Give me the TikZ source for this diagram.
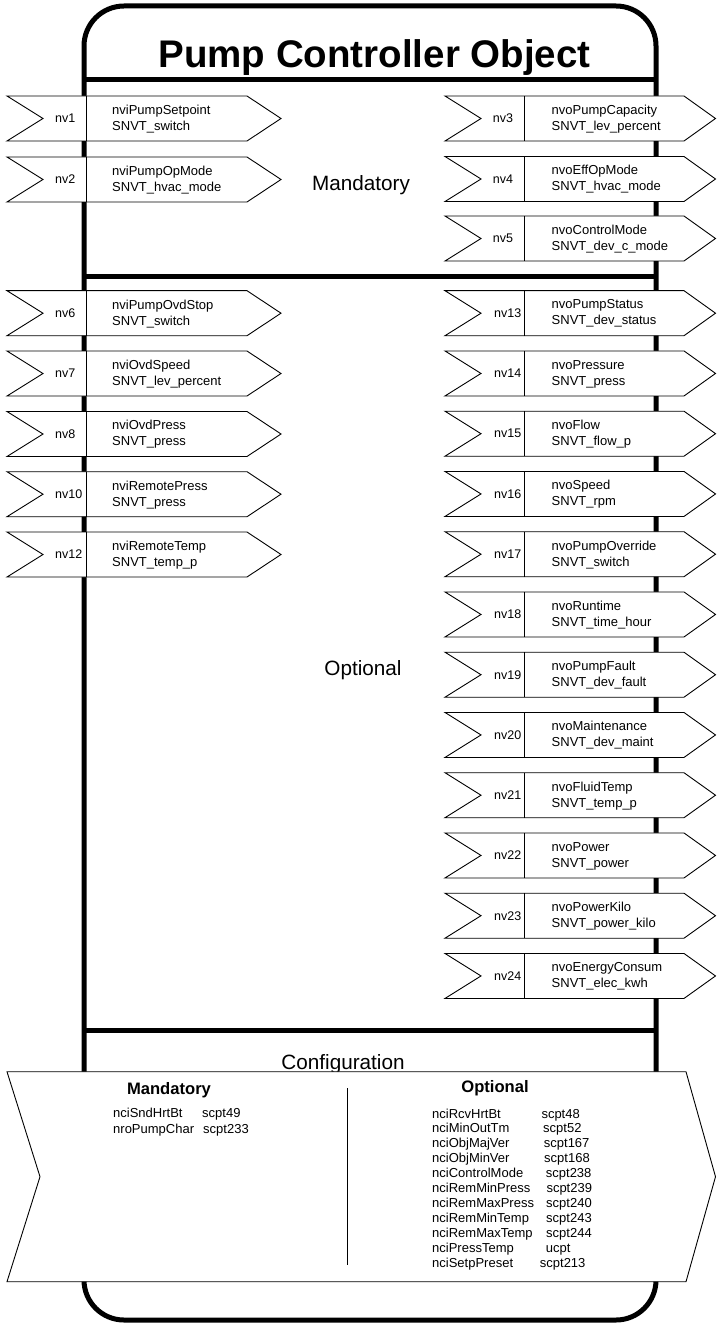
\documentclass[tikz,border=0pt]{standalone}
\usepackage{fontspec}
\setmainfont{Liberation Sans}
\tikzset{
 frame/.style={line width=5pt, draw=black},
 nvshape/.style={draw=black, line width=0.9pt, fill=white, line join=miter},
 divline/.style={draw=black, line width=0.9pt},
 nvtxt/.style={font=\fontsize{13}{16}\selectfont, inner sep=0pt, align=left, anchor=west},
 nvlab/.style={font=\fontsize{12.5}{15}\selectfont, inner sep=0pt},
 seclab/.style={font=\fontsize{20.7}{24}\selectfont, inner sep=0pt, anchor=base},
 cfgtxt/.style={font=\fontsize{13}{15}\selectfont, inner sep=0pt, anchor=base west},
 cfghead/.style={font=\fontsize{16.6}{20}\selectfont\bfseries, inner sep=0pt, anchor=base},
 titletxt/.style={font=\fontsize{38.5}{44}\selectfont\bfseries, inner sep=0pt, anchor=base}
}
\begin{document}
\begin{tikzpicture}[x=1pt,y=-1pt]
\useasboundingbox (0,0) rectangle (716,1329);
% container
\draw[frame, rounded corners=40pt] (84,6) rectangle (656,1320);
\coordinate (l1) at (84,80);   \coordinate (r1) at (656,80);
\coordinate (l2) at (84,277);  \coordinate (r2) at (656,277);
\coordinate (l3) at (84,1030); \coordinate (r3) at (656,1030);
\draw[frame] (l1) -- (r1);
\draw[frame] (l2) -- (r2);
\draw[frame] (l3) -- (r3);
\node[titletxt] (title) at (374.5,68) {Pump Controller Object};
\node[seclab] (mand) at (361,190.4) {Mandatory};
\node[seclab] (opt) at (363,675.4) {Optional};
\node[seclab] (conf) at (343,1069) {Configuration};
% input boxes (left)
\foreach \t/\lab/\nm/\ty/\id in {
 96/nv1/nviPumpSetpoint/SNVT\_switch/a,
 157/nv2/nviPumpOpMode/SNVT\_hvac\_mode/b,
 290.7/nv6/nviPumpOvdStop/SNVT\_switch/c,
 351/nv7/nviOvdSpeed/SNVT\_lev\_percent/d,
 411.5/nv8/nviOvdPress/SNVT\_press/e,
 471.7/nv10/nviRemotePress/SNVT\_press/f,
 532/nv12/nviRemoteTemp/SNVT\_temp\_p/g}
{
 \draw[nvshape] (7,\t) -- (247,\t) -- (281,\t+22.5) -- (247,\t+45) -- (7,\t+45) -- (43,\t+22.5) -- cycle;
 \draw[divline] (86,\t) -- (86,\t+45);
 \node[nvlab, anchor=west] (in-\id) at (55,\t+22.5) {\lab};
 \node[nvtxt] (inname-\id) at (112,\t+23) {\nm\\\ty};
}
% output boxes (right), single-digit
\foreach \t/\lab/\nm/\ty/\id in {
 96/nv3/nvoPumpCapacity/SNVT\_lev\_percent/a,
 156.5/nv4/nvoEffOpMode/SNVT\_hvac\_mode/b,
 216/nv5/nvoControlMode/SNVT\_dev\_c\_mode/c}
{
 \draw[nvshape] (445,\t) -- (684,\t) -- (715.5,\t+22.5) -- (684,\t+45) -- (445,\t+45) -- (481,\t+22.5) -- cycle;
 \draw[divline] (524.5,\t) -- (524.5,\t+45);
 \node[nvlab] (out-\id) at (503,\t+22.5) {\lab};
 \node[nvtxt] (outname-\id) at (551.5,\t+23) {\nm\\\ty};
}
% output boxes (right), optional
\foreach \k/\lab/\nm/\ty/\id in {
 0/nv13/nvoPumpStatus/SNVT\_dev\_status/d,
 1/nv14/nvoPressure/SNVT\_press/e,
 2/nv15/nvoFlow/SNVT\_flow\_p/f,
 3/nv16/nvoSpeed/SNVT\_rpm/g,
 4/nv17/nvoPumpOverride/SNVT\_switch/h,
 5/nv18/nvoRuntime/SNVT\_time\_hour/i,
 6/nv19/nvoPumpFault/SNVT\_dev\_fault/j,
 7/nv20/nvoMaintenance/SNVT\_dev\_maint/k,
 8/nv21/nvoFluidTemp/SNVT\_temp\_p/l,
 9/nv22/nvoPower/SNVT\_power/m,
 10/nv23/nvoPowerKilo/SNVT\_power\_kilo/n,
 11/nv24/nvoEnergyConsum/SNVT\_elec\_kwh/o}
{
 \pgfmathsetmacro{\t}{290.7+60.25*\k}
 \draw[nvshape] (445,\t) -- (684,\t) -- (715.5,\t+22.5) -- (684,\t+45) -- (445,\t+45) -- (481,\t+22.5) -- cycle;
 \draw[divline] (524.5,\t) -- (524.5,\t+45);
 \node[nvlab, anchor=east] (out-\id) at (521.5,\t+22.5) {\lab};
 \node[nvtxt] (outname-\id) at (551.5,\t+23) {\nm\\\ty};
}
% configuration block
\draw[nvshape] (7,1071.7) -- (686,1071.7) -- (715.5,1176.7) -- (686,1281.7) -- (7,1281.7) -- (40,1176.7) -- cycle;
\coordinate (cdtop) at (347,1088);
\coordinate (cdbot) at (347,1265);
\draw[divline] (cdtop) -- (cdbot);
\node[cfghead] (cmh) at (169,1094) {Mandatory};
\node[cfgtxt] (cm1) at (113,1117.7) {nciSndHrtBt};
\node[cfgtxt] (cm1v) at (202,1117.7) {scpt49};
\node[cfgtxt] (cm2) at (113,1133.7) {nroPumpChar};
\node[cfgtxt] (cm2v) at (203,1133.7) {scpt233};
\node[cfghead] (coh) at (495,1092.6) {Optional};
\foreach \k/\nm/\v/\vx in {
 0/nciRcvHrtBt/scpt48/541.3,
 1/nciMinOutTm/scpt52/543,
 2/nciObjMajVer/scpt167/543.7,
 3/nciObjMinVer/scpt168/544,
 4/nciControlMode/scpt238/545.7,
 5/nciRemMinPress/scpt239/546.3,
 6/nciRemMaxPress/scpt240/546,
 7/nciRemMinTemp/scpt243/546,
 8/nciRemMaxTemp/scpt244/546,
 9/nciPressTemp/ucpt/545.7,
 10/nciSetpPreset/scpt213/539.7}
{
 \pgfmathsetmacro{\yy}{1113.3+14.94*\k+4.7}
 \node[cfgtxt] (co-\k) at (432,\yy) {\nm};
 \node[cfgtxt] (cov-\k) at (\vx,\yy) {\v};
}
\end{tikzpicture}
\end{document}
